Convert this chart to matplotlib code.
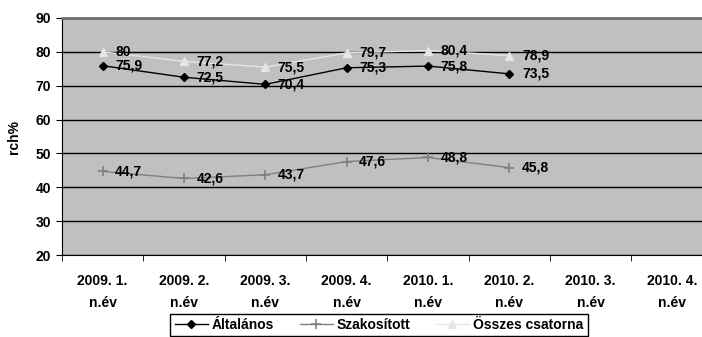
import matplotlib
matplotlib.use("Agg")
import matplotlib.pyplot as plt
from matplotlib import font_manager
import numpy as np

# keskeny betűtípus, ha van
try:
    font_manager.findfont('Liberation Sans Narrow', fallback_to_default=False)
    csalad = ['Liberation Sans Narrow', 'DejaVu Sans']
    meret = 10.5
except ValueError:
    csalad = ['Liberation Sans', 'DejaVu Sans']
    meret = 10
plt.rcParams['font.family'] = csalad
plt.rcParams['font.weight'] = 'bold'

# adatok
kategoriak = ["2009. 1.\nn.év", "2009. 2.\nn.év", "2009. 3.\nn.év", "2009. 4.\nn.év",
              "2010. 1.\nn.év", "2010. 2.\nn.év", "2010. 3.\nn.év", "2010. 4.\nn.év"]
altalanos = [75.9, 72.5, 70.4, 75.3, 75.8, 73.5]
szakositott = [44.7, 42.6, 43.7, 47.6, 48.8, 45.8]
osszes = [80, 77.2, 75.5, 79.7, 80.4, 78.9]

fig = plt.figure(figsize=(7.02, 3.37), dpi=100)
ax = fig.add_axes([0.0883, 0.2433, 0.927, 0.7033])
ax.set_facecolor('#C0C0C0')

x = np.arange(len(altalanos))
ax.plot(x, altalanos, color='black', marker='D', markersize=4.5, lw=1, label='Általános', zorder=4)
ax.plot(x, szakositott, color='#808080', marker='+', markersize=7, mew=1.2, lw=1, label='Szakosított', zorder=4)
ax.plot(x, osszes, color='#E6E6E6', marker='^', markersize=6, lw=1, label='Összes csatorna', zorder=4)

def cimke(v):
    return ('%g' % v).replace('.', ',')

for serie in (altalanos, szakositott, osszes):
    for i, v in enumerate(serie):
        ax.annotate(cimke(v), (i, v), xytext=(9, 0), textcoords='offset points',
                    va='center', ha='left', fontsize=meret, fontweight='bold', zorder=5)

ax.set_xlim(-0.5, len(kategoriak) - 0.5)
ax.set_ylim(20, 90)
ax.set_yticks(range(20, 91, 10))
ax.yaxis.grid(True, color='black', lw=1)
ax.set_axisbelow(True)

ax.set_xticks(range(len(kategoriak)))
ax.set_xticklabels(kategoriak, fontsize=meret, fontweight='bold', linespacing=1.7)
ax.set_xticks(np.arange(-0.5, len(kategoriak), 1), minor=True)
ax.tick_params(axis='x', which='major', length=0, pad=14)
ax.tick_params(axis='x', which='minor', length=4, direction='out', color='black')
ax.tick_params(axis='y', length=4, direction='out', labelsize=meret, pad=4)

ax.spines['top'].set_color('#707070')
ax.spines['top'].set_linewidth(2)
ax.spines['right'].set_visible(False)
ax.spines['left'].set_color('black')
ax.spines['bottom'].set_color('black')

ax.set_ylabel('rch%', fontsize=meret, fontweight='bold', labelpad=10)

leg = fig.legend(loc='upper center', bbox_to_anchor=(0.54, 0.068), ncol=3, fontsize=meret,
                 frameon=True, fancybox=False, edgecolor='black', framealpha=1,
                 handlelength=2.4, handletextpad=0.3, columnspacing=1.8,
                 borderpad=0.3, borderaxespad=0)
leg.get_frame().set_linewidth(1)

fig.savefig('out.png', dpi=100)
